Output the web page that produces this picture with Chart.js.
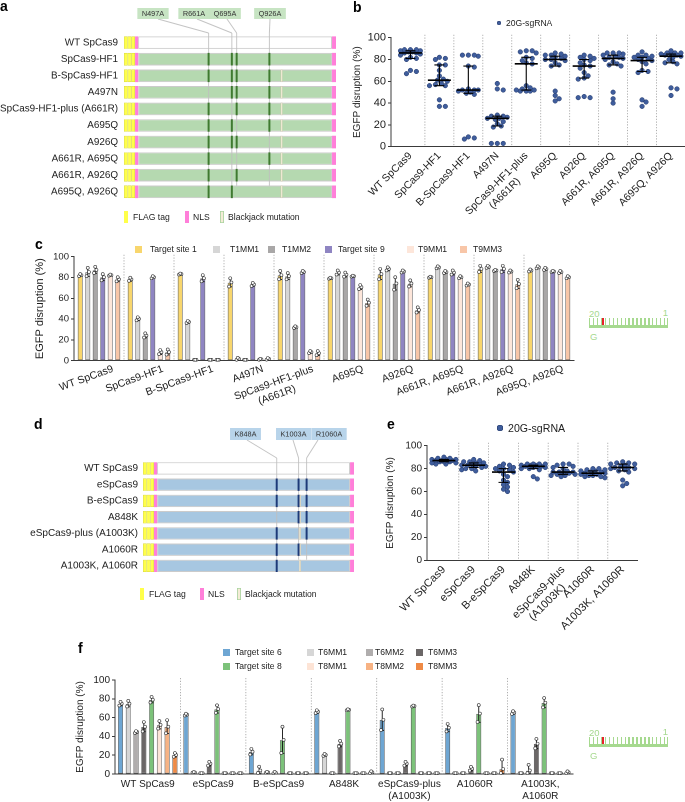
<!DOCTYPE html>
<html><head><meta charset="utf-8"><title>SpCas9 variants</title>
<script src="https://cdn.jsdelivr.net/npm/chart.js@4.4.1/dist/chart.umd.min.js"></script>
<style>
html,body{margin:0;padding:0;background:#fff;}
body{width:685px;height:802px;overflow:hidden;position:relative;font-family:'Liberation Sans',Arial,sans-serif;color:#1e1e1e;}
.abs{position:absolute;}
.letter{position:absolute;font-weight:bold;font-size:14px;line-height:14px;color:#000;}
.lgt{position:absolute;white-space:nowrap;color:#222;}
</style></head><body>
<div class="abs" style="left:0;top:0;width:340px;height:212px"><canvas id="cA" width="340" height="212"></canvas></div>
<div class="abs" style="left:340px;top:0;width:350px;height:240px"><canvas id="cB" width="350" height="240"></canvas></div>
<div class="abs" style="left:0;top:240px;width:580px;height:170px"><canvas id="cC" width="580" height="170"></canvas></div>
<div class="abs" style="left:0;top:410px;width:360px;height:175px"><canvas id="cD" width="360" height="175"></canvas></div>
<div class="abs" style="left:340px;top:415px;width:345px;height:230px"><canvas id="cE" width="345" height="230"></canvas></div>
<div class="abs" style="left:0;top:640px;width:590px;height:162px"><canvas id="cF" width="590" height="162"></canvas></div>
<div id="overlay"></div>
<script>
// ================= DATA =================
// Panel a: SpCas9-HF1 derived variants
const variantsA = ['WT SpCas9','SpCas9-HF1','B-SpCas9-HF1','A497N','SpCas9-HF1-plus (A661R)','A695Q','A926Q','A661R, A695Q','A661R, A926Q','A695Q, A926Q'];
const sitesA = [497, 661, 695, 926];
const siteNamesA = ['N497A','R661A','Q695A','Q926A'];
const mutA = [
  [0,0,0,0],[1,1,1,1],[1,1,1,1],[0,1,1,1],[1,0,1,1],
  [1,1,0,1],[1,1,1,0],[1,0,0,1],[1,0,1,0],[1,1,0,0]];
const blackjackA = [0,0,1,1,1,1,1,1,1,1];

// Panel d: eSpCas9 derived variants
const variantsD = ['WT SpCas9','eSpCas9','B-eSpCas9','A848K','eSpCas9-plus (A1003K)','A1060R','A1003K, A1060R'];
const sitesD = [848, 1003, 1060];
const siteNamesD = ['K848A','K1003A','R1060A'];
const mutD = [[0,0,0],[1,1,1],[1,1,1],[0,1,1],[1,0,1],[1,1,0],[1,0,0]];
const blackjackD = [0,0,1,1,1,1,1];

// construct layout (residue units)
const cas9Len = 1368;
const flagSegs = [[-100,-74],[-74,-48],[-48,-22]];
const nlsNSpan = [-22, 0];
const nlsCSpan = [1368, 1396];
const blackjackSpan = [1005, 1020];

// Panel b: EGFP disruption (%) with 20G-sgRNAs
const NB = '\u00A0';
const catsB = ['WT SpCas9','SpCas9-HF1','B-SpCas9-HF1','A497N',['SpCas9-HF1-plus','(A661R)'+NB.repeat(8)],'A695Q','A926Q','A661R, A695Q','A661R, A926Q','A695Q, A926Q'];
const sgB = [
  [67,69,70,80,81,82,84,85,86,86,87,87,88,88,89,89,89],
  [37,37,43,56,56,57,58,60,61,62,65,70,75,75,80,81,82],
  [7,8,9,48,49,50,51,52,52,52,53,73,74,83,84,84,84],
  [3,3,3,18,19,21,23,25,26,26,27,28,28,29,52,53,58],
  [51,51,51,52,52,53,54,56,76,77,79,81,82,86,87,88,88],
  [42,44,47,51,74,75,77,79,80,80,81,82,83,84,84,85,86],
  [45,45,46,62,63,65,68,72,74,75,77,79,80,81,82,83,84],
  [40,44,50,74,75,76,78,80,81,82,82,83,84,85,86,86,86],
  [37,41,43,68,69,70,76,78,79,80,81,82,82,83,84,84,87],
  [47,53,54,76,77,78,80,82,83,84,84,85,85,86,86,86,88]];

// Panel e
const catsE = ['WT SpCas9','eSpCas9','B-eSpCas9','A848K',['eSpCas9-plus','(A1003K)'+NB.repeat(4)],'A1060R','A1003K, A1060R'];
const sgE = [
  [84,84,85,85,86,86,86,87,87,87,87,88,88,88,89,89,90],
  [78,79,80,80,81,82,82,83,83,84,84,85,85,86,86,87,88],
  [60,62,64,66,68,70,73,75,77,78,79,80,80,81,82,83,84],
  [71,73,79,80,80,81,81,82,82,82,83,83,83,84,84,84,84],
  [73,74,74,75,75,76,76,77,77,77,78,80,81,82,83,84,84],
  [72,73,73,74,74,75,75,76,76,77,77,78,78,79,79,80,80],
  [65,67,70,77,78,79,80,80,81,81,82,83,84,84,85,85,86]];

// Panel c: target site 1 / 9 and mismatched sgRNAs
const groupsC = ['WT SpCas9','SpCas9-HF1','B-SpCas9-HF1','A497N',['SpCas9-HF1-plus','(A661R)'+NB.repeat(8)],'A695Q','A926Q','A661R, A695Q','A661R, A926Q','A695Q, A926Q'];
const ts1   = [82,78,83,75,82,79,83,80,88,86.5];
const t1mm1 = [85,40,37,1.5,81,84.5,88,89.5,90,89.5];
const t1mm2 = [87,24,0.3,0.3,32,82.5,74,85,86.5,88];
const ts9   = [80,80,79,73,85,81,85.5,84.5,88,85.5];
const t9mm1 = [82,8,0.5,1,8,70.5,74,80,85.5,85];
const t9mm3 = [78,8,0.3,1.5,7,55.5,48.5,73,73.5,80];
const ts1Err   = [1,1.5,0.5,4,4,0.5,5,0.5,3,1];
const t1mm1Err = [4,1.5,1,1,3,2,1.5,1,1,1];
const t1mm2Err = [3,2,0,0,0.8,2,6,1,0.5,1];
const ts9Err   = [3,1,3,1.5,1,0.5,1,2,3,0.5];
const t9mm1Err = [0.5,2,0,0.5,1,2,3,1,1,1];
const t9mm3Err = [2,2.5,0,0.8,2,3,2.5,1,4,1];

// Panel f: target site 6 / 8 and mismatched sgRNAs
const groupsF = ['WT SpCas9','eSpCas9','B-eSpCas9','A848K',['eSpCas9-plus','(A1003K)'],'A1060R',['A1003K,','A1060R']];
const ts6   = [74.5,62.8,23.4,66,57.4,49,65];
const t6mm1 = [74.5,1.4,3.5,20,0.3,0.3,0.3];
const t6mm2 = [44.3,0.3,1.5,0.3,0.3,0.3,3.5];
const t6mm3 = [50,10.6,1,32,10.6,5.3,32];
const ts8   = [78.7,68.8,36,68,72,64,75.5];
const t8mm1 = [52,0.3,0.3,0.3,0.3,0.3,0.3];
const t8mm2 = [50,0.3,0.3,0.5,0.3,0.3,0.3];
const t8mm3 = [20,0.3,0.3,1.5,0.3,5,1.5];
const ts6Err   = [2,1,3,1.5,11,4,1.5];
const t6mm1Err = [3,0.3,4,1,0,0,0];
const t6mm2Err = [1,0,0.5,0,0,0,6];
const t6mm3Err = [5,2,1,3,2,2,5];
const ts8Err   = [3,4,14,0.5,0.5,9,5];
const t8mm1Err = [4,0,0,0,0,0,0];
const t8mm2Err = [7,0,0,0,0,0,0];
const t8mm3Err = [2,0,0,1,0,10,1];

const yTicks = [0,20,40,60,80,100];

// ================= STYLE =================
const FONT = "'Liberation Sans', Arial, Helvetica, sans-serif";
Chart.defaults.font.family = FONT;
Chart.defaults.color = '#222';
Chart.defaults.animation = false;
const AX = '#3a3a3a';
const colC = {ts1:'#f8d66d', t1mm1:'#d6d6d6', t1mm2:'#a9a7a7', ts9:'#8f85c2', t9mm1:'#fde6da', t9mm3:'#f8c6a8'};
const colF = {ts6:'#6ea6d3', t6mm1:'#d6d6d6', t6mm2:'#b0adad', t6mm3:'#6b6767', ts8:'#7cc27a', t8mm1:'#fde4d6', t8mm2:'#f7b283', t8mm3:'#ef8a45'};

// ================= HELPERS =================
function quant(arr, p){ const s=[...arr].sort((a,b)=>a-b); const pos=p*(s.length-1); const lo=Math.floor(pos), hi=Math.ceil(pos); return s[lo]+(s[hi]-s[lo])*(pos-lo); }
// deterministic beeswarm layout (horizontal display offsets only)
function swarm(vals, pxX, pxY, d, step, maxOff){
  const order = vals.map((v,i)=>i).sort((a,b)=>vals[b]-vals[a]);
  const placed=[]; const dx=new Array(vals.length).fill(0);
  order.forEach(i=>{
    const y=vals[i]*pxY; let best=0, bestD=-1;
    for(let k=0;;k++){
      const off = k===0?0:(k%2?1:-1)*Math.ceil(k/2)*step;
      if(Math.abs(off)>maxOff) break;
      const md=Math.min(Infinity,...placed.map(p=>Math.hypot(p.x-off,p.y-y)));
      if(md>=d){best=off;break;}
      if(md>bestD){bestD=md;best=off;}
    }
    placed.push({x:best,y}); dx[i]=best/pxX;
  });
  return dx;
}
function sepPlugin(n, linear, ext){
  return {id:'seps', beforeDatasetsDraw(chart){
    const {ctx, chartArea:a, scales:{x}} = chart;
    ctx.save(); ctx.strokeStyle='#9c9c9c'; ctx.lineWidth=0.8; ctx.setLineDash([1.2,1.6]);
    for(let i=1;i<n;i++){
      const px = linear ? x.getPixelForValue(i) : (x.getPixelForValue(i-1)+x.getPixelForValue(i))/2;
      ctx.beginPath(); ctx.moveTo(px, a.top-ext); ctx.lineTo(px, a.bottom); ctx.stroke();
    }
    ctx.restore();
  }};
}
function summaryPlugin(groups, capW, medW){
  return {id:'summ', afterDatasetsDraw(chart){
    const {ctx, scales:{x,y}} = chart;
    ctx.save(); ctx.strokeStyle='#000'; ctx.setLineDash([]);
    groups.forEach((vals,i)=>{
      const px=x.getPixelForValue(i+0.5);
      const q1=y.getPixelForValue(quant(vals,0.25)), md=y.getPixelForValue(quant(vals,0.5)), q3=y.getPixelForValue(quant(vals,0.75));
      ctx.lineWidth=1.1;
      ctx.beginPath(); ctx.moveTo(px,q1); ctx.lineTo(px,q3);
      ctx.moveTo(px-capW,q1); ctx.lineTo(px+capW,q1);
      ctx.moveTo(px-capW,q3); ctx.lineTo(px+capW,q3); ctx.stroke();
      ctx.lineWidth=1.6;
      ctx.beginPath(); ctx.moveTo(px-medW,md); ctx.lineTo(px+medW,md); ctx.stroke();
    });
    ctx.restore();
  }};
}
function errPlugin(errs){
  return {id:'errs', afterDatasetsDraw(chart){
    const {ctx, scales:{y}} = chart;
    ctx.save();
    chart.data.datasets.forEach((ds,i)=>{
      chart.getDatasetMeta(i).data.forEach((el,j)=>{
        const m=ds.data[j], e=errs[i][j], x=el.x;
        if(e>0.4){
          const yt=y.getPixelForValue(m+e), yb=y.getPixelForValue(Math.max(0,m-e));
          ctx.strokeStyle='#111'; ctx.lineWidth=0.9;
          ctx.beginPath(); ctx.moveTo(x,yt); ctx.lineTo(x,yb);
          ctx.moveTo(x-1.8,yt); ctx.lineTo(x+1.8,yt);
          ctx.moveTo(x-1.8,yb); ctx.lineTo(x+1.8,yb); ctx.stroke();
        }
        const marks=[[x-1.2,Math.max(0.6,m-e)],[x+1.2,Math.max(0.6,m)],[x,Math.max(0.6,m+e)]];
        ctx.lineWidth=0.6; ctx.strokeStyle='#333'; ctx.fillStyle='#fff';
        marks.forEach(([cx,v])=>{ ctx.beginPath(); ctx.arc(cx,y.getPixelForValue(v)-0.3,1.5,0,Math.PI*2); ctx.fill(); ctx.stroke(); });
      });
    });
    ctx.restore();
  }};
}

// ================= SCHEMATICS (a, d) =================
function schematic(id, rows, sites, names, mut, bj, cfg){
  const common = {grouped:false, barPercentage:0.76, categoryPercentage:1, borderSkipped:false};
  const ds=[];
  flagSegs.forEach(seg=>ds.push({...common, data:rows.map(()=>seg), backgroundColor:'#ffff4a', borderColor:'#d9d93a', borderWidth:0.6, order:5}));
  ds.push({...common, data:rows.map(()=>nlsNSpan), backgroundColor:'#ff7fd9', borderWidth:0, order:5});
  const bodyIndex = ds.length;
  ds.push({...common, data:rows.map(()=>[0,cas9Len]), backgroundColor:rows.map((r,i)=>(mut[i].some(v=>v)||bj[i])?cfg.body:'#ffffff'), borderColor:'#cbcbcb', borderWidth:1, order:5});
  ds.push({...common, data:rows.map(()=>nlsCSpan), backgroundColor:'#ff7fd9', borderWidth:0, order:5});
  ds.push({...common, data:rows.map((r,i)=>bj[i]?blackjackSpan:null), backgroundColor:'#f4ecd6', borderColor:'#c9c2a8', borderWidth:0.5, order:1});
  sites.forEach((s,k)=>ds.push({...common, data:rows.map((r,i)=>mut[i][k]?[s-7,s+7]:null), backgroundColor:cfg.mark, borderWidth:0, order:0}));
  const plug = {id:'schem',
    afterDatasetDraw(chart,args){
      if(args.index!==bodyIndex) return;
      const {ctx, scales:{x,y}} = chart;
      const half=(y.getPixelForValue(1)-y.getPixelForValue(0))*0.38;
      const lastTop=y.getPixelForValue(rows.length-1)-half;
      ctx.save(); ctx.strokeStyle='rgba(190,190,190,0.85)'; ctx.lineWidth=1;
      sites.forEach(s=>{const px=x.getPixelForValue(s); ctx.beginPath(); ctx.moveTo(px,cfg.kneeY); ctx.lineTo(px,lastTop); ctx.stroke();});
      ctx.restore();
    },
    afterDraw(chart){
      const {ctx, scales:{x}} = chart;
      ctx.save();
      ctx.strokeStyle='rgba(190,190,190,0.9)'; ctx.lineWidth=1;
      sites.forEach((s,k)=>{const px=x.getPixelForValue(s); ctx.beginPath(); ctx.moveTo(cfg.lineX[k],cfg.boxTop+cfg.boxH); ctx.lineTo(px,cfg.kneeY); ctx.stroke();});
      ctx.font='7.3px '+FONT; ctx.textAlign='center'; ctx.textBaseline='middle';
      names.forEach((nm,k)=>{
        const w=ctx.measureText(nm).width+9;
        ctx.fillStyle=cfg.boxFill; ctx.fillRect(cfg.boxCx[k]-w/2,cfg.boxTop,w,cfg.boxH);
        ctx.fillStyle='#333'; ctx.fillText(nm,cfg.boxCx[k],cfg.boxTop+cfg.boxH/2+0.5);
      });
      ctx.restore();
    }};
  return new Chart(document.getElementById(id), {
    type:'bar',
    data:{labels:rows, datasets:ds},
    options:{indexAxis:'y', responsive:false, devicePixelRatio:2,
      layout:{padding:{top:cfg.padTop, bottom:cfg.padBottom, right:cfg.padRight, left:0}},
      plugins:{legend:{display:false}, tooltip:{enabled:false}},
      scales:{
        x:{type:'linear', display:false, min:flagSegs[0][0], max:nlsCSpan[1]},
        y:{type:'category', grid:{display:false, drawTicks:false}, border:{display:false}, ticks:{padding:cfg.tp, font:{size:cfg.fs}, color:'#1e1e1e', autoSkip:false}, afterFit:s=>{s.width=cfg.yw;}}
      }},
    plugins:[plug]
  });
}
schematic('cA', variantsA, sitesA, siteNamesA, mutA, blackjackA,
  {body:'#b5d9b0', mark:'#3f7a30', boxFill:'#c7e4c3', boxCx:[153,194,225,270], boxTop:8, boxH:11, lineX:[158,197,227,270], kneeY:33,
   padTop:34.35, padBottom:4.65, padRight:4, yw:124, tp:6, fs:9.9});
schematic('cD', variantsD, sitesD, siteNamesD, mutD, blackjackD,
  {body:'#a7c7e1', mark:'#1d3a78', boxFill:'#b8d4ea', boxCx:[245.5,293.5,329], boxTop:18, boxH:12, lineX:[247,293,318], kneeY:48,
   padTop:50.35, padBottom:3.55, padRight:6, yw:143, tp:5, fs:10});

// ================= DOT PLOTS (b, e) =================
function dotPlot(id, cats, groups, cfg){
  const pts=[];
  groups.forEach((vals,i)=>{const dx=swarm(vals,cfg.pxX,cfg.pxY,4.2,2,cfg.maxOff); vals.forEach((v,j)=>pts.push({x:i+0.5+dx[j], y:v}));});
  return new Chart(document.getElementById(id), {
    type:'scatter',
    data:{datasets:[{data:pts, pointRadius:2.3, pointBackgroundColor:'#3f5d9c', pointBorderColor:'#24396a', pointBorderWidth:0.5}]},
    options:{responsive:false, devicePixelRatio:2,
      layout:{padding:{top:cfg.padTop, right:cfg.padRight, left:0, bottom:0}},
      plugins:{legend:{display:false}, tooltip:{enabled:false}},
      scales:{
        x:{type:'linear', min:cfg.xmin, max:cats.length, bounds:'data', grid:{display:false, drawTicks:false}, border:{color:AX, width:1},
          afterBuildTicks:s=>{s.ticks=cats.map((c,i)=>({value:i+0.5}));},
          ticks:{autoSkip:false, minRotation:45, maxRotation:45, padding:3, font:{size:cfg.xfs}, color:'#1e1e1e', callback:(v,i)=>cats[i]},
          afterFit:s=>{s.height=cfg.xh;}},
        y:{min:0, max:100, afterBuildTicks:s=>{s.ticks=yTicks.map(v=>({value:v}));},
          ticks:{font:{size:cfg.yfs}, padding:2, color:'#1e1e1e'},
          grid:{display:true, drawOnChartArea:false, tickLength:3, color:AX}, border:{color:AX, width:1},
          title:{display:true, text:'EGFP disruption (%)', font:{size:10}, padding:{top:cfg.titlePad, bottom:0}, color:'#1e1e1e'},
          afterFit:s=>{s.width=cfg.yw;}}
      }},
    plugins:[sepPlugin(cats.length,true,3), summaryPlugin(groups,5,11.5)]
  });
}
dotPlot('cB', catsB, sgB, {pxX:29.2, pxY:1.09, maxOff:11, padTop:37.7, padRight:2, xmin:-0.171, xh:93.3, yw:51, titlePad:11, xfs:10.5, yfs:11});
dotPlot('cE', catsE, sgE, {pxX:29.8, pxY:1.146, maxOff:12, padTop:30.7, padRight:47.4, xmin:-0.067, xh:84.7, yw:87, titlePad:44, xfs:11, yfs:10});

// ================= BAR CHARTS (c, f) =================
function barChart(id, groups, series, errs, cfg){
  return new Chart(document.getElementById(id), {
    type:'bar',
    data:{labels:groups, datasets:series.map(s=>({label:s.name, data:s.vals, backgroundColor:s.color, borderColor:'#5a5a5a', borderWidth:0.7, borderSkipped:false, barPercentage:cfg.bp, categoryPercentage:cfg.cp}))},
    options:{responsive:false, devicePixelRatio:2,
      layout:{padding:{top:cfg.padTop, right:cfg.padRight, left:0, bottom:0}},
      plugins:{legend:{display:false}, tooltip:{enabled:false}},
      scales:{
        x:{grid:{display:false, drawTicks:false}, border:{color:AX, width:1},
          ticks:{autoSkip:false, minRotation:cfg.rot, maxRotation:cfg.rot, padding:cfg.xpad, labelOffset:cfg.lo, font:{size:cfg.xfs}, color:'#1e1e1e'},
          afterFit:s=>{s.height=cfg.xh;}},
        y:{min:0, max:100, afterBuildTicks:s=>{s.ticks=yTicks.map(v=>({value:v}));},
          ticks:{font:{size:cfg.yfs}, padding:2, color:'#1e1e1e'},
          grid:{display:true, drawOnChartArea:false, tickLength:3, color:AX}, border:{color:AX, width:1},
          title:{display:true, text:'EGFP disruption (%)', font:{size:cfg.tfs}, padding:{top:cfg.titlePad, bottom:0}, color:'#1e1e1e'},
          afterFit:s=>{s.width=cfg.yw;}}
      }},
    plugins:[sepPlugin(groups.length,false,cfg.ext), errPlugin(errs)]
  });
}
const seriesC = [
  {name:'Target site 1', vals:ts1, color:colC.ts1},
  {name:'T1MM1', vals:t1mm1, color:colC.t1mm1},
  {name:'T1MM2', vals:t1mm2, color:colC.t1mm2},
  {name:'Target site 9', vals:ts9, color:colC.ts9},
  {name:'T9MM1', vals:t9mm1, color:colC.t9mm1},
  {name:'T9MM3', vals:t9mm3, color:colC.t9mm3}];
barChart('cC', groupsC, seriesC, [ts1Err,t1mm1Err,t1mm2Err,ts9Err,t9mm1Err,t9mm3Err],
  {bp:0.67, cp:0.9, padTop:16.7, padRight:6, rot:20, xpad:2, lo:14, xfs:10.5, xh:49.3, yfs:9.5, tfs:11, titlePad:33.4, yw:74, ext:2});
const seriesF = [
  {name:'Target site 6', vals:ts6, color:colF.ts6},
  {name:'T6MM1', vals:t6mm1, color:colF.t6mm1},
  {name:'T6MM2', vals:t6mm2, color:colF.t6mm2},
  {name:'T6MM3', vals:t6mm3, color:colF.t6mm3},
  {name:'Target site 8', vals:ts8, color:colF.ts8},
  {name:'T8MM1', vals:t8mm1, color:colF.t8mm1},
  {name:'T8MM2', vals:t8mm2, color:colF.t8mm2},
  {name:'T8MM3', vals:t8mm3, color:colF.t8mm3}];
barChart('cF', groupsF, seriesF, [ts6Err,t6mm1Err,t6mm2Err,t6mm3Err,ts8Err,t8mm1Err,t8mm2Err,t8mm3Err],
  {bp:0.65, cp:0.95, padTop:40, padRight:17, rot:0, xpad:4, lo:0, xfs:10, xh:28, yfs:10, tfs:10, titlePad:74, yw:115, ext:2});

// ================= OVERLAY TEXT / LEGENDS =================
const ov=document.getElementById('overlay');
function add(h){ov.insertAdjacentHTML('beforeend',h);}
function sw(x,yc,w,h,bg,bd){add(`<div class="abs" style="left:${x}px;top:${yc-h/2}px;width:${w}px;height:${h}px;background:${bg};${bd?`box-shadow:inset 0 0 0 0.8px ${bd};`:''}"></div>`);}
function txt(x,yc,s,size,col){const lh=Math.round(size*1.2);add(`<div class="lgt" style="left:${x}px;top:${yc-lh/2}px;font-size:${size}px;line-height:${lh}px;${col?'color:'+col+';':''}">${s}</div>`);}
function dot(cx,cy,r){add(`<div class="abs" style="left:${cx-r}px;top:${cy-r}px;width:${2*r}px;height:${2*r}px;border-radius:50%;background:#3f5d9c;box-shadow:inset 0 0 0 0.5px #24396a"></div>`);}
// panel letters
[['a',0,-1.4],['b',353,-0.4],['c',35,236.6],['d',34,416.6],['e',387,416.6],['f',78,640.6]].forEach(([l,x,y])=>add(`<div class="letter" style="left:${x}px;top:${y}px">${l}</div>`));
// schematic legends
function schemLegend(yc,xs){
  sw(xs[0],yc,4,12,'#ffff4a'); txt(xs[0]+9,yc,'FLAG tag',8.6);
  sw(xs[1],yc,4,12,'#ff7fd9'); txt(xs[1]+8,yc,'NLS',8.6);
  sw(xs[2],yc,4,12,'#f4ecd6','#a9d3a0'); txt(xs[2]+8,yc,'Blackjack mutation',8.6);
}
schemLegend(217,[124,185,220]);
schemLegend(594,[140,200,237]);
// dot plot legends
dot(499,23,2.4); txt(506,23,'20G-sgRNA',8.6);
dot(500,428,2.8); txt(508,428,'20G-sgRNA',10.6);
// bar legends
const cBox=[135,213,268,325,407,460], cTxt=[150,230,282,338,418,473];
seriesC.forEach((s,i)=>{sw(cBox[i],249,7,7,s.color); txt(cTxt[i],249,s.name,8.6);});
const fBox=[223,307,366,416], fTxt=[235,318,375,428];
seriesF.forEach((s,i)=>{const r=i<4?0:1, c=i%4; const yc=652+r*14; sw(fBox[c],yc,7,7,s.color); txt(fTxt[c],yc,s.name,8.6);});
// sgRNA mismatch schematics
function guide(x,y){
  const g='#a6d98f';
  txt(x,y-5,'20',9.5,g);
  add(`<div class="lgt" style="left:${x+60}px;top:${y-11}px;width:19px;text-align:right;font-size:9.5px;line-height:11px;color:${g}">1</div>`);
  add(`<div class="abs" style="left:${x}px;top:${y}px;width:78px;height:7px;border-bottom:3px solid ${g};border-right:1.3px solid ${g};background:repeating-linear-gradient(to right,${g} 0 1.3px,transparent 1.3px 3.95px)"></div>`);
  add(`<div class="abs" style="left:${x+12.5}px;top:${y}px;width:2.4px;height:7px;background:#e8202a"></div>`);
  txt(x+1,y+18,'G',9.5,g);
}
guide(589,318);
guide(589,737);
</script></body></html>
